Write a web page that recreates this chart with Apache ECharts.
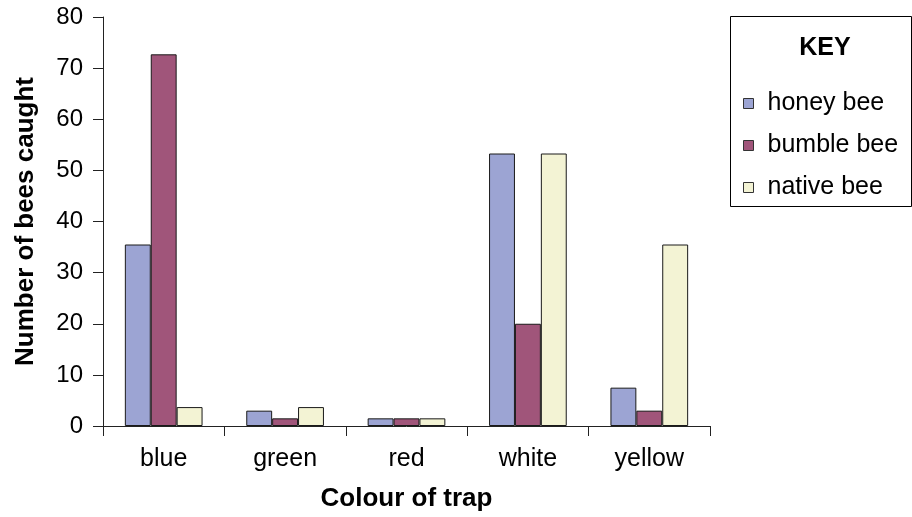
<!DOCTYPE html>
<html><head><meta charset="utf-8">
<script src="https://cdn.jsdelivr.net/npm/echarts@6/dist/echarts.min.js"></script>
<style>html,body{margin:0;padding:0;background:#fff}#c{width:912px;height:517px}</style>
</head><body><div id="c"></div>
<script>
const categories = ['blue', 'green', 'red', 'white', 'yellow'];
const honeyBee = [35.5, 3, 1.5, 53.3, 7.5];
const bumbleBee = [72.7, 1.5, 1.5, 20, 3];
const nativeBee = [3.7, 3.7, 1.5, 53.3, 35.5];
const seriesNames = ['honey bee', 'bumble bee', 'native bee'];
const yTicks = [0, 10, 20, 30, 40, 50, 60, 70, 80];

const font = 'Liberation Sans, Arial, sans-serif';
const colors = ['#9ca4d3', '#a0557a', '#f3f3d4'];
const chart = echarts.init(document.getElementById('c'), null, {renderer: 'canvas'});
const mk = (name, data, i) => ({
  name, type: 'bar', data,
  barGap: '0%', barCategoryGap: '36%',
  itemStyle: {color: colors[i], borderColor: '#1a1a1a', borderWidth: 1},
  emphasis: {disabled: true}, animation: false
});
chart.setOption({
  animation: false,
  textStyle: {fontFamily: font},
  grid: {left: 103, right: 202, top: 17, bottom: 90, containLabel: false},
  title: {text: 'KEY', left: 820, top: 31, textAlign: 'center',
    textStyle: {fontFamily: font, fontSize: 25, fontWeight: 'bold', color: '#000'}},
  graphic: [{type: 'rect', shape: {x: 730.5, y: 16.5, width: 181, height: 190},
    style: {fill: 'none', stroke: '#000', lineWidth: 1}, silent: true}],
  legend: {orient: 'vertical', left: 738, top: 86, itemWidth: 10, itemHeight: 10,
    itemGap: 17, icon: 'rect', selectedMode: false,
    itemStyle: {borderColor: '#333', borderWidth: 1},
    textStyle: {fontFamily: font, fontSize: 25, color: '#000', padding: [0, 0, 0, 9]},
    data: seriesNames},
  xAxis: {type: 'category', data: categories,
    name: 'Colour of trap', nameLocation: 'middle', nameGap: 60,
    nameTextStyle: {fontFamily: font, fontSize: 26, fontWeight: 'bold', color: '#000'},
    axisLine: {lineStyle: {color: '#222', width: 1}},
    axisTick: {show: true, length: 10, alignWithLabel: false, lineStyle: {color: '#222'}},
    axisLabel: {fontFamily: font, fontSize: 25, color: '#000', margin: 21}},
  yAxis: {type: 'value', min: yTicks[0], max: yTicks[yTicks.length - 1], interval: 10,
    name: 'Number of bees caught', nameLocation: 'middle', nameGap: 64,
    nameTextStyle: {fontFamily: font, fontSize: 26, fontWeight: 'bold', color: '#000'},
    axisLine: {show: true, lineStyle: {color: '#222', width: 1}},
    axisTick: {show: true, length: 10, lineStyle: {color: '#222'}},
    splitLine: {show: false},
    axisLabel: {fontFamily: font, fontSize: 24, color: '#000', margin: 20}},
  series: [mk(seriesNames[0], honeyBee, 0), mk(seriesNames[1], bumbleBee, 1), mk(seriesNames[2], nativeBee, 2)]
});
</script></body></html>
